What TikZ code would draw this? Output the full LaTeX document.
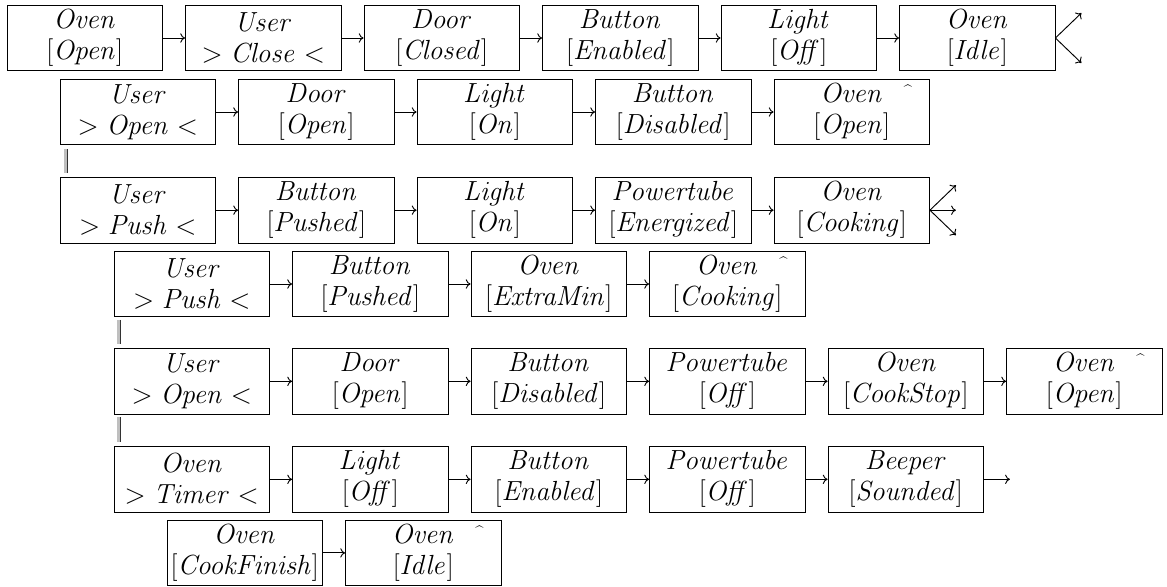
\documentclass[tikz,border=0pt]{standalone}
\usepackage{amsmath}
\usepackage{tikz}
\usetikzlibrary{arrows.meta,positioning}
\tikzset{
  evbox/.style={draw, line width=0.65pt, minimum width=116.6pt, minimum height=49.1pt, inner sep=0pt, align=center, font=\fontsize{21}{23.2}\selectfont},
  arrow/.style={-{To[length=3.6pt,width=7pt]}, line width=0.7pt},
  seqlink/.style={draw=black!80, double=black!25, double distance=2pt, line width=0.5pt},
  hatmark/.style={inner sep=0pt, font=\fontsize{11}{11}\selectfont}
}

\begin{document}
\begin{tikzpicture}[x=0.75pt,y=-0.75pt]
  \useasboundingbox (0,0) rectangle (1167,586);

  % row 1
  \node[evbox] (ovenopen) at (84.75,38) {$\mathit{Oven}$\\$[\mathit{Open}]$};
  \node[evbox] (userclose) at (263.25,38) {$\mathit{User}$\\$>\mathit{Close}<$};
  \node[evbox] (doorclosed) at (441.75,38) {$\mathit{Door}$\\$[\mathit{Closed}]$};
  \node[evbox] (btnenabled) at (620.25,38) {$\mathit{Button}$\\$[\mathit{Enabled}]$};
  \node[evbox] (lightoff) at (798.75,38) {$\mathit{Light}$\\$[\mathit{Off}]$};
  \node[evbox] (ovenidle) at (977.25,38) {$\mathit{Oven}$\\$[\mathit{Idle}]$};
  \coordinate (forkup) at ([shift={(26,-25)}]ovenidle.east);
  \coordinate (forkdown) at ([shift={(26,25)}]ovenidle.east);

  % row 2
  \node[evbox] (useropen) at (137.75,112) {$\mathit{User}$\\$>\mathit{Open}<$};
  \node[evbox] (dooropen) at (316.25,112) {$\mathit{Door}$\\$[\mathit{Open}]$};
  \node[evbox] (lighton) at (494.75,112) {$\mathit{Light}$\\$[\mathit{On}]$};
  \node[evbox] (btndisabled) at (673.25,112) {$\mathit{Button}$\\$[\mathit{Disabled}]$};
  \node[evbox] (ovenopenb) at (851.75,112) {$\mathit{Oven}$\\$[\mathit{Open}]$};
  \node[hatmark] (hatb) at ([shift={(-22,11)}]ovenopenb.north east) {\^{}};

  % row 3
  \node[evbox] (userpush) at (137.75,210.2) {$\mathit{User}$\\$>\mathit{Push}<$};
  \node[evbox] (btnpushed) at (316.25,210.2) {$\mathit{Button}$\\$[\mathit{Pushed}]$};
  \node[evbox] (lightonb) at (494.75,210.2) {$\mathit{Light}$\\$[\mathit{On}]$};
  \node[evbox] (tubeon) at (673.25,210.2) {$\mathit{Powertube}$\\$[\mathit{Energized}]$};
  \node[evbox] (ovencooking) at (851.75,210.2) {$\mathit{Oven}$\\$[\mathit{Cooking}]$};
  \coordinate (cookup) at ([shift={(26,-25)}]ovencooking.east);
  \coordinate (cookmid) at ([shift={(26,0)}]ovencooking.east);
  \coordinate (cookdown) at ([shift={(26,25)}]ovencooking.east);

  % row 4
  \node[evbox] (userpushb) at (191.75,284) {$\mathit{User}$\\$>\mathit{Push}<$};
  \node[evbox] (btnpushedb) at (370.25,284) {$\mathit{Button}$\\$[\mathit{Pushed}]$};
  \node[evbox] (ovenextra) at (548.75,284) {$\mathit{Oven}$\\$[\mathit{ExtraMin}]$};
  \node[evbox] (ovencookingb) at (727.25,284) {$\mathit{Oven}$\\$[\mathit{Cooking}]$};
  \node[hatmark] (hatd) at ([shift={(-22,11)}]ovencookingb.north east) {\^{}};

  % row 5
  \node[evbox] (useropenb) at (191.75,381.3) {$\mathit{User}$\\$>\mathit{Open}<$};
  \node[evbox] (dooropenb) at (370.25,381.3) {$\mathit{Door}$\\$[\mathit{Open}]$};
  \node[evbox] (btndisabledb) at (548.75,381.3) {$\mathit{Button}$\\$[\mathit{Disabled}]$};
  \node[evbox] (tubeoff) at (727.25,381.3) {$\mathit{Powertube}$\\$[\mathit{Off}]$};
  \node[evbox] (ovenstop) at (905.75,381.3) {$\mathit{Oven}$\\$[\mathit{CookStop}]$};
  \node[evbox] (ovenopenc) at (1084.25,381.3) {$\mathit{Oven}$\\$[\mathit{Open}]$};
  \node[hatmark] (hate) at ([shift={(-22,11)}]ovenopenc.north east) {\^{}};

  % row 6
  \node[evbox] (oventimer) at (191.75,479.3) {$\mathit{Oven}$\\$>\mathit{Timer}<$};
  \node[evbox] (lightoffb) at (370.25,479.3) {$\mathit{Light}$\\$[\mathit{Off}]$};
  \node[evbox] (btnenabledb) at (548.75,479.3) {$\mathit{Button}$\\$[\mathit{Enabled}]$};
  \node[evbox] (tubeoffb) at (727.25,479.3) {$\mathit{Powertube}$\\$[\mathit{Off}]$};
  \node[evbox] (beeper) at (905.75,479.3) {$\mathit{Beeper}$\\$[\mathit{Sounded}]$};
  \coordinate (beepout) at ([shift={(26,0)}]beeper.east);

  % row 7
  \node[evbox] (ovenfinish) at (244.75,552.9) {$\mathit{Oven}$\\$[\mathit{CookFinish}]$};
  \node[evbox] (ovenidleb) at (423.25,552.9) {$\mathit{Oven}$\\$[\mathit{Idle}]$};
  \node[hatmark] (hatg) at ([shift={(-22,11)}]ovenidleb.north east) {\^{}};

  \draw[arrow] (ovenopen) -- (userclose);
  \draw[arrow] (userclose) -- (doorclosed);
  \draw[arrow] (doorclosed) -- (btnenabled);
  \draw[arrow] (btnenabled) -- (lightoff);
  \draw[arrow] (lightoff) -- (ovenidle);
  \draw[arrow] (ovenidle.east) -- (forkup);
  \draw[arrow] (ovenidle.east) -- (forkdown);

  \draw[arrow] (useropen) -- (dooropen);
  \draw[arrow] (dooropen) -- (lighton);
  \draw[arrow] (lighton) -- (btndisabled);
  \draw[arrow] (btndisabled) -- (ovenopenb);

  \draw[arrow] (userpush) -- (btnpushed);
  \draw[arrow] (btnpushed) -- (lightonb);
  \draw[arrow] (lightonb) -- (tubeon);
  \draw[arrow] (tubeon) -- (ovencooking);
  \draw[arrow] (ovencooking.east) -- (cookup);
  \draw[arrow] (ovencooking.east) -- (cookmid);
  \draw[arrow] (ovencooking.east) -- (cookdown);

  \draw[arrow] (userpushb) -- (btnpushedb);
  \draw[arrow] (btnpushedb) -- (ovenextra);
  \draw[arrow] (ovenextra) -- (ovencookingb);

  \draw[arrow] (useropenb) -- (dooropenb);
  \draw[arrow] (dooropenb) -- (btndisabledb);
  \draw[arrow] (btndisabledb) -- (tubeoff);
  \draw[arrow] (tubeoff) -- (ovenstop);
  \draw[arrow] (ovenstop) -- (ovenopenc);

  \draw[arrow] (oventimer) -- (lightoffb);
  \draw[arrow] (lightoffb) -- (btnenabledb);
  \draw[arrow] (btnenabledb) -- (tubeoffb);
  \draw[arrow] (tubeoffb) -- (beeper);
  \draw[arrow] (beeper.east) -- (beepout);

  \draw[arrow] (ovenfinish) -- (ovenidleb);

  % alternative sequences
  \draw[seqlink] ([xshift=4.5pt,yshift=-3pt]useropen.south west) -- ([xshift=4.5pt,yshift=3pt]userpush.north west);
  \draw[seqlink] ([xshift=3.75pt,yshift=-2pt]userpushb.south west) -- ([xshift=3.75pt,yshift=3pt]useropenb.north west);
  \draw[seqlink] ([xshift=3.75pt,yshift=-2pt]useropenb.south west) -- ([xshift=3.75pt,yshift=3pt]oventimer.north west);
\end{tikzpicture}
\end{document}
